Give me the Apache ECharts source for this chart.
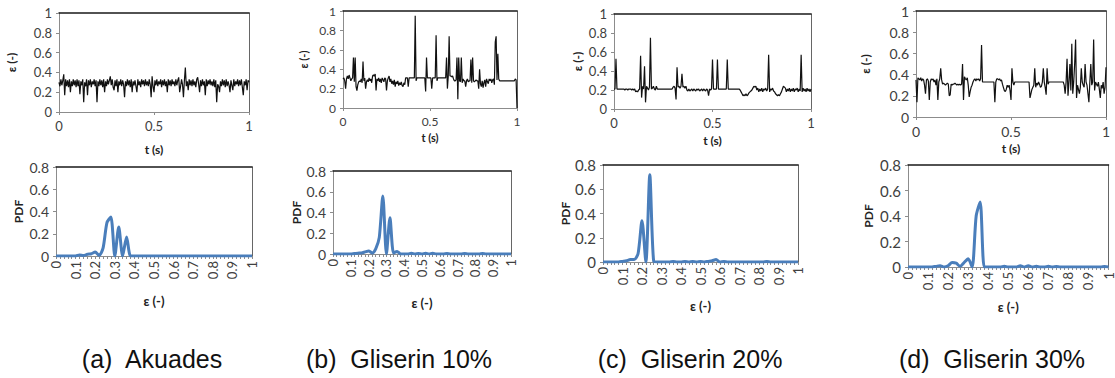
<!DOCTYPE html>
<html>
<head>
<meta charset="utf-8">
<script src="https://cdn.jsdelivr.net/npm/echarts@6/dist/echarts.min.js"></script>
<style>
  html, body { margin: 0; background: #fff; }
  #chart { width: 1115px; height: 378px; }
</style>
</head>
<body>
<div id="chart"></div>
<script>
// strain (ε) vs time, one sample every 0.005 s from 0 to 1 s
const strainA = [
  0.30,0.26,0.33,0.27,0.32,0.38,0.17,0.33,0.26,0.32,0.25,0.33,0.20,0.31,0.26,0.33,0.27,0.32,0.25,0.33,
  0.26,0.32,0.18,0.31,0.27,0.33,0.10,0.30,0.26,0.33,0.17,0.32,0.27,0.33,0.25,0.31,0.28,0.33,0.26,0.32,
  0.10,0.31,0.26,0.33,0.27,0.32,0.25,0.33,0.20,0.31,0.26,0.33,0.28,0.32,0.36,0.27,0.33,0.25,0.22,0.32,
  0.26,0.33,0.20,0.31,0.27,0.33,0.26,0.32,0.28,0.15,0.31,0.26,0.33,0.27,0.32,0.25,0.33,0.20,0.31,0.27,
  0.32,0.26,0.20,0.33,0.27,0.31,0.25,0.33,0.28,0.32,0.26,0.33,0.27,0.31,0.26,0.33,0.28,0.15,0.36,0.26,
  0.20,0.32,0.27,0.33,0.26,0.31,0.28,0.33,0.25,0.32,0.27,0.33,0.26,0.31,0.20,0.33,0.27,0.32,0.26,0.33,
  0.28,0.31,0.26,0.33,0.27,0.32,0.35,0.20,0.26,0.33,0.28,0.15,0.32,0.45,0.26,0.31,0.22,0.33,0.27,0.32,
  0.26,0.33,0.27,0.31,0.25,0.33,0.35,0.28,0.20,0.32,0.26,0.33,0.27,0.31,0.17,0.33,0.26,0.32,0.28,0.33,
  0.27,0.31,0.26,0.33,0.25,0.32,0.10,0.28,0.26,0.20,0.31,0.26,0.33,0.27,0.32,0.25,0.33,0.26,0.31,0.27,
  0.20,0.32,0.27,0.22,0.33,0.26,0.31,0.28,0.33,0.26,0.32,0.27,0.33,0.25,0.17,0.31,0.27,0.33,0.22,0.32,
  0.30
];
const strainB = [
  0.30,0.31,0.28,0.20,0.30,0.33,0.30,0.34,0.31,0.28,0.30,0.31,0.52,0.27,0.52,0.22,0.18,0.24,0.27,0.28,
  0.27,0.30,0.26,0.48,0.28,0.31,0.20,0.27,0.29,0.27,0.31,0.28,0.30,0.26,0.33,0.34,0.33,0.35,0.18,0.30,
  0.28,0.31,0.27,0.30,0.26,0.31,0.29,0.27,0.31,0.30,0.18,0.28,0.31,0.33,0.27,0.30,0.25,0.28,0.24,0.29,
  0.22,0.27,0.25,0.28,0.23,0.26,0.24,0.27,0.23,0.22,0.26,0.24,0.31,0.31,0.31,0.22,0.31,0.31,0.31,0.31,
  0.31,0.31,0.31,0.95,0.28,0.31,0.31,0.31,0.31,0.31,0.31,0.31,0.31,0.31,0.31,0.17,0.52,0.31,0.31,0.31,
  0.31,0.31,0.20,0.31,0.31,0.31,0.31,0.75,0.28,0.31,0.31,0.31,0.31,0.31,0.31,0.31,0.31,0.31,0.31,0.52,
  0.20,0.33,0.74,0.33,0.33,0.32,0.33,0.30,0.28,0.28,0.29,0.52,0.09,0.52,0.28,0.27,0.52,0.26,0.30,0.28,
  0.28,0.22,0.28,0.30,0.27,0.28,0.28,0.50,0.26,0.52,0.28,0.27,0.28,0.29,0.28,0.28,0.20,0.40,0.25,0.22,
  0.28,0.21,0.26,0.29,0.22,0.30,0.27,0.25,0.30,0.28,0.30,0.26,0.29,0.30,0.24,0.68,0.74,0.29,0.56,0.30,
  0.28,0.28,0.28,0.28,0.28,0.28,0.28,0.28,0.28,0.28,0.28,0.28,0.28,0.28,0.28,0.28,0.28,0.28,0.30,0.29,
  0.00
];
const strainC = [
  0.21,0.21,0.53,0.21,0.21,0.21,0.21,0.21,0.21,0.21,0.21,0.20,0.21,0.21,0.20,0.21,0.21,0.21,0.20,0.21,
  0.20,0.21,0.18,0.19,0.18,0.20,0.21,0.56,0.12,0.24,0.21,0.45,0.07,0.24,0.22,0.20,0.23,0.75,0.21,0.22,
  0.24,0.21,0.20,0.24,0.21,0.21,0.21,0.21,0.21,0.21,0.21,0.21,0.21,0.21,0.21,0.21,0.21,0.21,0.21,0.21,
  0.23,0.24,0.22,0.10,0.44,0.23,0.24,0.22,0.24,0.37,0.23,0.24,0.22,0.24,0.20,0.19,0.21,0.19,0.20,0.21,
  0.19,0.21,0.20,0.19,0.21,0.20,0.21,0.19,0.20,0.21,0.19,0.21,0.20,0.19,0.21,0.20,0.14,0.21,0.20,0.21,
  0.52,0.21,0.21,0.21,0.21,0.52,0.21,0.21,0.21,0.21,0.21,0.21,0.21,0.21,0.21,0.52,0.21,0.21,0.21,0.21,
  0.21,0.21,0.21,0.21,0.21,0.21,0.21,0.21,0.20,0.18,0.16,0.14,0.15,0.14,0.16,0.14,0.15,0.17,0.18,0.19,
  0.20,0.22,0.24,0.23,0.24,0.20,0.22,0.18,0.21,0.19,0.22,0.18,0.21,0.20,0.22,0.19,0.21,0.57,0.18,0.21,
  0.20,0.22,0.19,0.18,0.16,0.15,0.14,0.15,0.14,0.16,0.18,0.21,0.24,0.23,0.22,0.18,0.21,0.19,0.22,0.18,
  0.21,0.19,0.22,0.18,0.21,0.20,0.22,0.18,0.21,0.19,0.57,0.18,0.22,0.19,0.21,0.18,0.22,0.19,0.21,0.18,
  0.21
];
const strainD = [
  0.35,0.14,0.37,0.36,0.35,0.37,0.34,0.36,0.35,0.30,0.22,0.35,0.36,0.34,0.16,0.33,0.36,0.35,0.36,0.33,
  0.35,0.30,0.36,0.16,0.33,0.36,0.46,0.35,0.31,0.32,0.31,0.30,0.31,0.32,0.31,0.20,0.21,0.31,0.30,0.31,
  0.31,0.32,0.31,0.30,0.31,0.30,0.31,0.30,0.31,0.50,0.16,0.38,0.36,0.35,0.37,0.30,0.19,0.24,0.28,0.30,
  0.33,0.35,0.36,0.34,0.36,0.35,0.36,0.34,0.36,0.68,0.33,0.33,0.33,0.33,0.33,0.33,0.33,0.33,0.33,0.33,
  0.33,0.33,0.33,0.14,0.33,0.36,0.36,0.35,0.36,0.34,0.35,0.31,0.28,0.25,0.24,0.26,0.30,0.28,0.30,0.25,
  0.16,0.46,0.33,0.30,0.33,0.33,0.33,0.33,0.33,0.33,0.33,0.33,0.33,0.33,0.33,0.33,0.33,0.33,0.33,0.33,
  0.18,0.22,0.26,0.28,0.30,0.46,0.28,0.32,0.30,0.33,0.31,0.28,0.29,0.33,0.46,0.33,0.28,0.21,0.46,0.31,
  0.33,0.33,0.33,0.33,0.33,0.33,0.33,0.33,0.33,0.33,0.33,0.33,0.33,0.33,0.33,0.33,0.30,0.22,0.33,0.55,
  0.20,0.33,0.50,0.25,0.69,0.22,0.33,0.50,0.73,0.18,0.30,0.26,0.22,0.28,0.46,0.33,0.30,0.28,0.50,0.33,
  0.30,0.22,0.14,0.33,0.50,0.30,0.33,0.73,0.25,0.33,0.31,0.29,0.33,0.26,0.18,0.30,0.27,0.33,0.22,0.28,
  0.47
];
const sampleStep = 0.005;

// PDF of ε, bins of 0.02
const epsBins = [
  '0','0.02','0.04','0.06','0.08','0.1','0.12','0.14','0.16','0.18',
  '0.2','0.22','0.24','0.26','0.28','0.3','0.32','0.34','0.36','0.38',
  '0.4','0.42','0.44','0.46','0.48','0.5','0.52','0.54','0.56','0.58',
  '0.6','0.62','0.64','0.66','0.68','0.7','0.72','0.74','0.76','0.78',
  '0.8','0.82','0.84','0.86','0.88','0.9','0.92','0.94','0.96','0.98','1'
];
const pdfA = [
  0,0,0,0,0,0,0.01,0.005,0.015,0.02,
  0.035,0.005,0.07,0.30,0.35,0,0.26,0,0.17,0,
  0,0,0,0,0,0,0,0,0,0,
  0,0,0,0,0,0,0,0,0,0,
  0,0,0,0,0,0,0,0,0,0,0
];
const pdfB = [
  0,0,0,0,0,0,0.005,0.008,0.01,0.02,
  0.03,0.01,0.05,0.16,0.56,0,0.35,0.01,0.025,0,
  0,0,0.008,0,0.006,0,0.008,0,0.008,0,
  0,0,0.005,0,0,0,0,0.005,0,0,
  0,0,0.005,0,0,0,0,0,0,0,0
];
const pdfC = [
  0,0,0,0,0,0.005,0.01,0.02,0.02,0.07,
  0.34,0,0.72,0.005,0,0,0,0,0.005,0,
  0,0.005,0,0.005,0,0.005,0,0.005,0.01,0.02,
  0,0.005,0,0,0,0,0,0,0,0,
  0,0,0.005,0,0,0,0,0,0,0,0
];
const pdfD = [
  0,0,0,0,0,0,0,0.005,0.01,0,
  0.01,0.035,0.03,0.005,0.035,0.065,0,0.40,0.51,0,
  0,0,0,0,0.005,0,0,0,0.01,0,
  0.01,0,0.005,0,0,0.005,0,0.003,0,0,
  0,0,0,0,0,0,0,0,0,0.003,0
];

const captions = ['(a)  Akuades', '(b)  Gliserin 10%', '(c)  Gliserin 20%', '(d)  Gliserin 30%'];

const topBoxes = [
  { left: 59, top: 13, width: 190, height: 99, fs: 13, nfs: 12, yGap: 42, xGap: 31 },
  { left: 343, top: 11, width: 174, height: 97, fs: 12, nfs: 11, yGap: 34, xGap: 24 },
  { left: 614, top: 14, width: 197, height: 95, fs: 13, nfs: 12, yGap: 31, xGap: 25 },
  { left: 916, top: 11, width: 190, height: 106, fs: 14, nfs: 12, yGap: 45, xGap: 25 }
];
const pdfBoxes = [
  { left: 56, top: 167, width: 196, height: 89, fs: 14, xfs: 13, yGap: 32, xGap: 38 },
  { left: 333, top: 171, width: 178, height: 83, fs: 14, xfs: 13, yGap: 30, xGap: 42 },
  { left: 603, top: 165, width: 195, height: 97, fs: 15, xfs: 13, yGap: 32, xGap: 37 },
  { left: 908, top: 165, width: 205, height: 102, fs: 15, xfs: 13, yGap: 34, xGap: 33 }
];
const captionX = [152, 399, 690, 992];

const font = 'Lato, sans-serif';
const axisGray = '#8c8c8c';
const labelColor = '#404040';

const grid = [], xAxis = [], yAxis = [], series = [];

function addFrame(g) {
  // top border (black) and right border (grey)
  xAxis.push({
    gridIndex: g, position: 'top', type: 'value', min: 0, max: 1,
    axisLine: { show: true, onZero: false, lineStyle: { color: '#1a1a1a', width: 1.5 } },
    axisTick: { show: false }, axisLabel: { show: false }, splitLine: { show: false }
  });
  yAxis.push({
    gridIndex: g, position: 'right', type: 'value', min: 0, max: 1,
    axisLine: { show: true, onZero: false, lineStyle: { color: '#666', width: 1 } },
    axisTick: { show: false }, axisLabel: { show: false }, splitLine: { show: false }
  });
}

const strains = [strainA, strainB, strainC, strainD];
topBoxes.forEach((b, i) => {
  const g = grid.length;
  grid.push({ left: b.left, top: b.top, width: b.width, height: b.height });
  xAxis.push({
    gridIndex: g, type: 'value', min: 0, max: 1, interval: 0.5,
    name: 't (s)', nameLocation: 'middle', nameGap: b.xGap,
    nameTextStyle: { fontFamily: font, fontWeight: 'bold', fontSize: b.nfs, color: '#222' },
    axisLine: { onZero: false, lineStyle: { color: axisGray } },
    axisTick: { show: true, length: 3, lineStyle: { color: axisGray } },
    axisLabel: { fontFamily: font, fontSize: b.fs, color: labelColor, margin: 7 },
    splitLine: { show: false }
  });
  yAxis.push({
    gridIndex: g, type: 'value', min: 0, max: 1, interval: 0.2,
    name: 'ε (-)', nameLocation: 'middle', nameGap: b.yGap, nameRotate: 90,
    nameTextStyle: { fontFamily: font, fontWeight: 'bold', fontSize: b.nfs, color: '#222' },
    axisLine: { show: true, onZero: false, lineStyle: { color: axisGray } },
    axisTick: { show: true, length: 3, lineStyle: { color: axisGray } },
    axisLabel: { fontFamily: font, fontSize: b.fs, color: labelColor, margin: 7 },
    splitLine: { show: false }
  });
  addFrame(g);
  series.push({
    type: 'line', xAxisIndex: 2 * g, yAxisIndex: 2 * g,
    showSymbol: false, animation: false,
    lineStyle: { color: '#111', width: 1.2 },
    data: strains[i].map((v, k) => [k * sampleStep, v])
  });
});

const pdfs = [pdfA, pdfB, pdfC, pdfD];
pdfBoxes.forEach((b, i) => {
  const g = grid.length;
  grid.push({ left: b.left, top: b.top, width: b.width, height: b.height });
  xAxis.push({
    gridIndex: g, type: 'category', data: epsBins, boundaryGap: false,
    name: 'ε (-)', nameLocation: 'middle', nameGap: b.xGap,
    nameTextStyle: { fontFamily: font, fontWeight: 'bold', fontSize: 13, color: '#222' },
    axisLine: { onZero: false, lineStyle: { color: axisGray } },
    axisTick: { show: true, interval: 0, length: 3, lineStyle: { color: axisGray } },
    axisLabel: { interval: 4, rotate: 90, fontFamily: font, fontSize: b.xfs, color: labelColor, margin: 5 },
    splitLine: { show: false }
  });
  yAxis.push({
    gridIndex: g, type: 'value', min: 0, max: 0.8, interval: 0.2,
    name: 'PDF', nameLocation: 'middle', nameGap: b.yGap, nameRotate: 90,
    nameTextStyle: { fontFamily: font, fontWeight: 'bold', fontSize: 12, color: '#222' },
    axisLine: { show: true, onZero: false, lineStyle: { color: axisGray } },
    axisTick: { show: true, length: 3, lineStyle: { color: axisGray } },
    axisLabel: { fontFamily: font, fontSize: b.fs, color: labelColor, margin: 7 },
    splitLine: { show: false }
  });
  addFrame(g);
  series.push({
    type: 'line', xAxisIndex: 2 * g, yAxisIndex: 2 * g,
    showSymbol: false, animation: false, smooth: 0.25,
    lineStyle: { color: '#4a7ebb', width: 3 },
    data: pdfs[i]
  });
});

const chart = echarts.init(document.getElementById('chart'), null, { renderer: 'svg' });
chart.setOption({
  backgroundColor: '#fff',
  animation: false,
  grid, xAxis, yAxis, series,
  graphic: captions.map((t, i) => ({
    type: 'text', x: captionX[i], y: 359,
    style: {
      text: t, fill: '#111', font: '25px "Liberation Sans", Arial, sans-serif',
      textAlign: 'center', textVerticalAlign: 'middle'
    }
  }))
});
</script>
</body>
</html>
